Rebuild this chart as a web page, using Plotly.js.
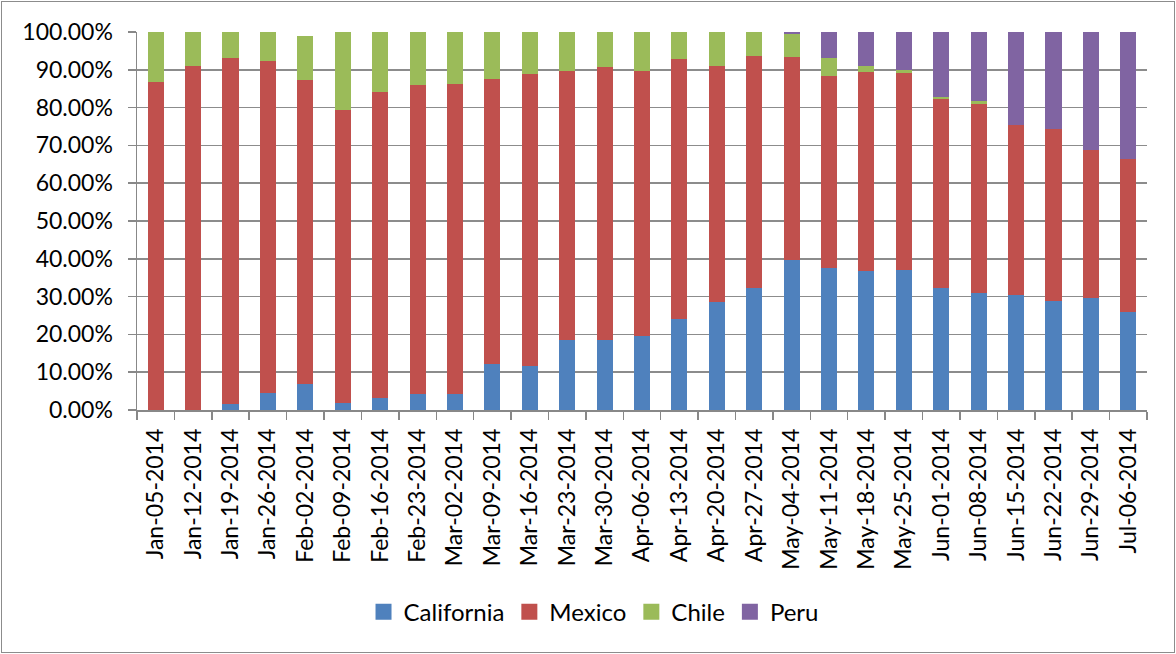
<!DOCTYPE html>
<html>
<head>
<meta charset="utf-8">
<script src="https://cdn.plot.ly/plotly-3.0.1.min.js"></script>
<style>
html,body{margin:0;padding:0;background:#fff;}
#chart{width:1176px;height:654px;box-sizing:border-box;}
#frame{position:absolute;left:1px;top:1px;width:1172px;height:650px;border:1px solid #8c8c8c;pointer-events:none;}
</style>
</head>
<body>
<div id="chart"></div>
<div id="frame"></div>
<script>
var weeks = ["Jan-05-2014","Jan-12-2014","Jan-19-2014","Jan-26-2014","Feb-02-2014","Feb-09-2014","Feb-16-2014","Feb-23-2014","Mar-02-2014","Mar-09-2014","Mar-16-2014","Mar-23-2014","Mar-30-2014","Apr-06-2014","Apr-13-2014","Apr-20-2014","Apr-27-2014","May-04-2014","May-11-2014","May-18-2014","May-25-2014","Jun-01-2014","Jun-08-2014","Jun-15-2014","Jun-22-2014","Jun-29-2014","Jul-06-2014"];
var california = [0,0,1.6,4.6,6.9,1.9,3.2,4.2,4.2,12.2,11.6,18.5,18.5,19.6,24.1,28.5,32.2,39.6,37.5,36.8,37.0,32.2,31.0,30.5,28.9,29.6,25.9];
var mexico = [86.7,90.9,91.4,87.6,80.3,77.4,80.9,81.7,82.0,75.3,77.2,71.1,72.2,70.0,68.7,62.4,61.4,53.7,50.8,52.5,52.1,50.0,49.9,44.9,45.5,39.1,40.5];
var chile = [13.3,9.1,7.0,7.8,11.7,20.7,15.9,14.1,13.8,12.5,11.2,10.4,9.3,10.4,7.2,9.1,6.4,6.1,4.7,1.6,0.8,0.6,0.9,0,0,0,0];
var peru = [0,0,0,0,0,0,0,0,0,0,0,0,0,0,0,0,0,0.6,7.0,9.1,10.1,17.2,18.2,24.6,25.6,31.3,33.6];
var seriesNames = ["California","Mexico","Chile","Peru"];
var seriesColors = ["#4f81bd","#c0504d","#9bbb59","#8064a2"];
var seriesValues = [california, mexico, chile, peru];

var FONT = "Lato, Calibri, 'Open Sans', sans-serif";
var traces = seriesValues.map(function(v,i){
  return {type:'bar', name:seriesNames[i], x:weeks, y:v, showlegend:false,
    marker:{color:seriesColors[i], line:{width:0}}, hoverinfo:'x+y+name'};
});
// legend entries with larger square swatches
seriesNames.forEach(function(n,i){
  traces.push({type:'scatter', mode:'markers', name:n, x:[null], y:[null],
    marker:{symbol:'square', size:16, color:seriesColors[i], line:{width:0}}, showlegend:true});
});

var layout = {
  width:1176, height:654,
  barmode:'stack', bargap:0.57,
  paper_bgcolor:'#ffffff', plot_bgcolor:'#ffffff',
  margin:{l:137, r:29, t:32, b:244, pad:0},
  font:{family:FONT, size:23, color:'#000000'},
  showlegend:true,
  legend:{orientation:'h', x:0.452, xanchor:'center', y:-0.535, yanchor:'middle',
    font:{family:FONT, size:24, color:'#000'}, traceorder:'normal', itemsizing:'trace'},
  xaxis:{type:'category', tickangle:-90, showgrid:false, showline:true, linecolor:'#888888', linewidth:1.5,
    ticks:'outside', ticklen:8, tickcolor:'#888888', tickwidth:1.5, tickson:'boundaries',
    tickfont:{family:FONT, size:23, color:'#000'}, automargin:false, ticklabelstandoff:8},
  yaxis:{range:[0,100], dtick:10, tickformat:'.2f', ticksuffix:'%', showgrid:true, gridcolor:'#8c8c8c', gridwidth:1.5,
    showline:true, linecolor:'#888888', linewidth:1.5, ticks:'outside', ticklen:8, tickcolor:'#888888', tickwidth:1.5,
    tickfont:{family:FONT, size:23, color:'#000'}, zeroline:false, automargin:false, ticklabelstandoff:10}
};
Plotly.newPlot('chart', traces, layout, {displayModeBar:false, staticPlot:true});
</script>
</body>
</html>
